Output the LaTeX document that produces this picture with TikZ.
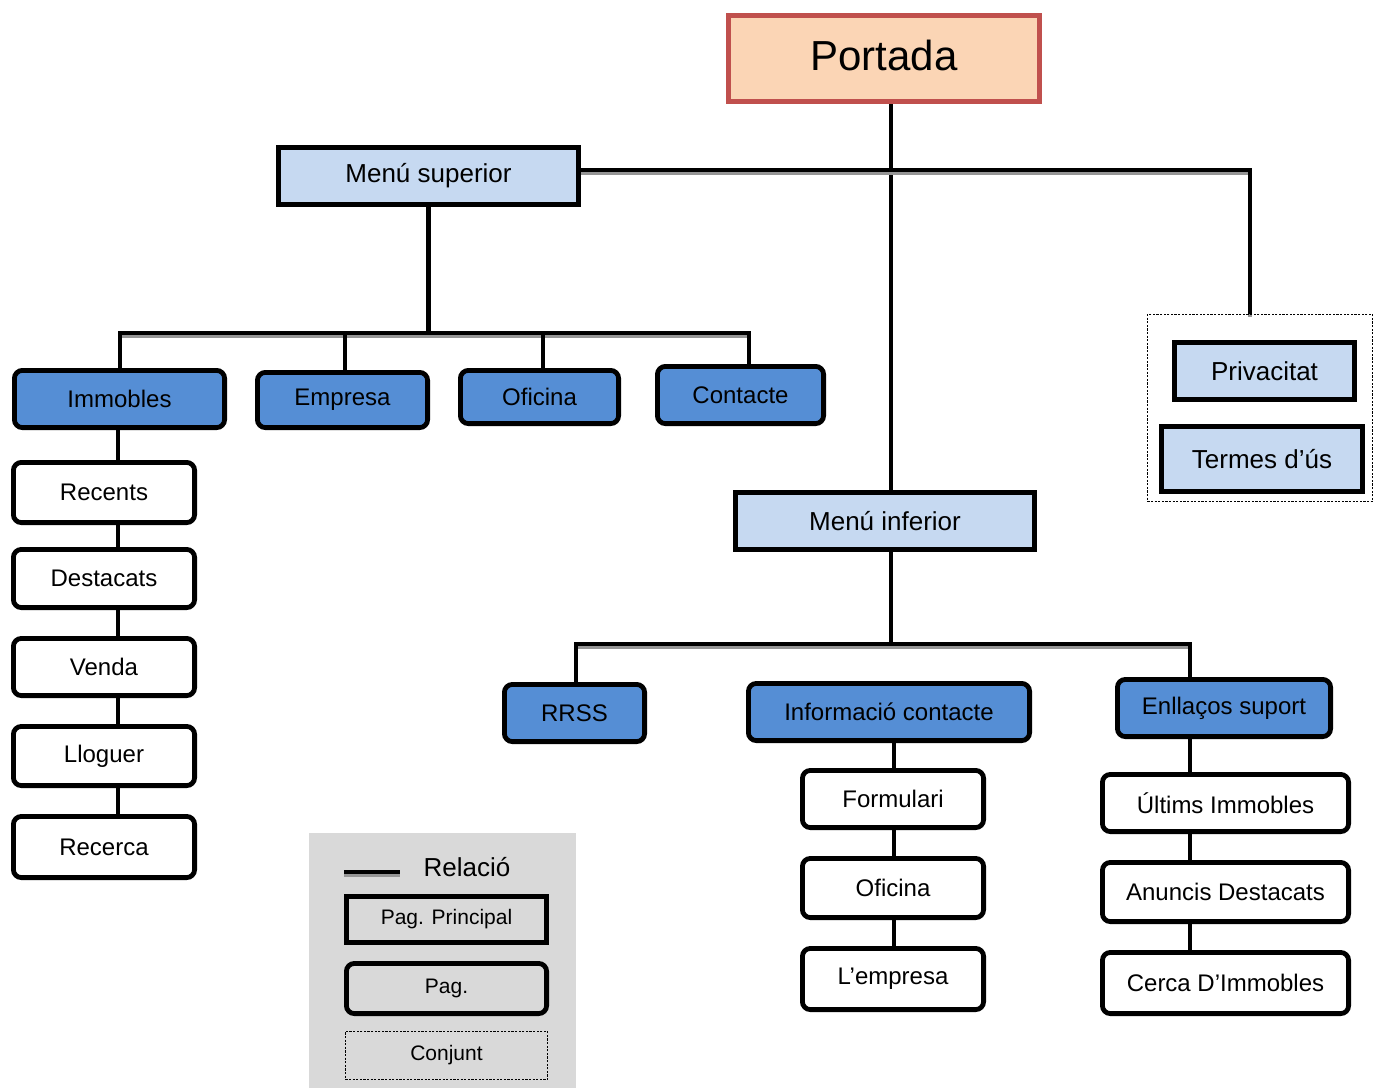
\documentclass[tikz,border=0pt]{standalone}
\usepackage{fontspec}
\setmainfont{Liberation Sans}
\usetikzlibrary{calc}
\pgfdeclarelayer{bg}
\pgfsetlayers{bg,main}
\definecolor{peach}{HTML}{FBD5B5}
\definecolor{peachborder}{HTML}{C0504D}
\definecolor{lightblue}{HTML}{C6D9F1}
\definecolor{midblue}{HTML}{558ED5}
\definecolor{legendgray}{HTML}{D9D9D9}
\definecolor{shadowgray}{HTML}{959595}
\begin{document}
\begin{tikzpicture}[x=0.5pt,y=-0.5pt,
  sz/.style 2 args={minimum width=#1*0.5pt-0.4pt, minimum height=#2*0.5pt-0.4pt},
  base/.style={draw=black, line width=2.4pt, inner sep=0pt, align=center, text=black},
  titlebox/.style={base, fill=peach, draw=peachborder, font=\fontsize{21}{25}\selectfont},
  menubox/.style={base, fill=lightblue, font=\fontsize{13}{16}\selectfont},
  secbox/.style={base, fill=midblue, rounded corners=4pt, font=\fontsize{12}{14}\selectfont},
  pagebox/.style={base, fill=white, rounded corners=4pt, font=\fontsize{12}{14}\selectfont},
  groupbox/.style={draw=black, line width=0.45pt, dash pattern=on 1.1pt off 0.7pt, inner sep=0pt},
  legbox/.style={base, fill=legendgray, font=\fontsize{10.5}{13}\selectfont},
  conn/.style={draw=black, line width=2.2pt,
    preaction={draw=shadowgray, line width=1.8pt, transform canvas={yshift=-1.7pt}}}
]
\useasboundingbox (0,0) rectangle (1379,1088);

\begin{pgfonlayer}{bg}
  \fill[legendgray] (309,833) rectangle (576,1088);
\end{pgfonlayer}

% main title
\node[titlebox, sz={312}{87}] (portada) at (884,58.5) {\raisebox{3pt}{Portada}};

% menus
\node[menubox, sz={301}{58}] (menusup) at (428.5,176) {Menú superior};
\node[menubox, sz={300}{58}] (menuinf) at (885,521) {Menú inferior};

% dotted group
\node[groupbox, sz={226}{188}] (grup) at (1260,408) {};
\node[menubox, sz={181}{58}] (privacitat) at (1264.5,371) {Privacitat};
\node[menubox, sz={202}{66}, line width=2.8pt] (termes) at (1262,459) {Termes d’ús};

% upper sections
\node[secbox, sz={211}{58}] (immobles) at (119.5,399) {Immobles};
\node[secbox, sz={171}{56}] (empresa) at (342.5,400) {Empresa};
\node[secbox, sz={159}{54}] (oficina) at (539.5,397) {Oficina};
\node[secbox, sz={167}{58}] (contacte) at (740.5,395) {Contacte};

% immobles pages
\node[pagebox, sz={182}{61}] (recents) at (104,492.5) {Recents};
\node[pagebox, sz={182}{59}] (destacats) at (104,578.5) {Destacats};
\node[pagebox, sz={182}{58}] (venda) at (104,667) {Venda};
\node[pagebox, sz={182}{60}] (lloguer) at (104,756) {Lloguer};
\node[pagebox, sz={182}{62}] (recerca) at (104,847) {Recerca};

% lower sections
\node[secbox, sz={141}{58}] (rrss) at (574.5,713) {RRSS};
\node[secbox, sz={282}{58}] (info) at (889,712) {Informació contacte};
\node[secbox, sz={214}{58}] (enllacos) at (1224,708) {Enllaços suport};

\node[pagebox, sz={182}{58}] (formulari) at (893,799) {Formulari};
\node[pagebox, sz={182}{60}] (oficina2) at (893,888) {Oficina};
\node[pagebox, sz={182}{62}] (lempresa) at (893,979) {L’empresa};

\node[pagebox, sz={247}{58}] (ultims) at (1225.5,803) {Últims Immobles};
\node[pagebox, sz={247}{60}] (anuncis) at (1225.5,892) {Anuncis Destacats};
\node[pagebox, sz={247}{62}] (cerca) at (1225.5,983) {Cerca D’Immobles};

% legend
\coordinate (relA) at (344,872);
\coordinate (relB) at (400,872);
\node[font=\fontsize{13}{16}\selectfont, anchor=center] (relacio) at (467,867) {Relació};
\node[legbox, sz={201}{47}] (legprin) at (446.5,919.5) {Pag. Principal};
\node[legbox, sz={201}{51}, rounded corners=4pt] (legpag) at (446.5,988.5) {Pag.};
\node[groupbox, sz={203}{49}, font=\fontsize{10.5}{13}\selectfont] (legconj) at (446.5,1055.5) {Conjunt};

% connectors
\coordinate (supR) at (1250,170);
\coordinate (bL) at (120,333);
\coordinate (bR) at (749,333);
\coordinate (iL) at (576,644);
\coordinate (iR) at (1190,644);
\begin{pgfonlayer}{bg}
  \draw[conn] (portada.south -| 891,0) -- (menuinf.north -| 891,0);
  \draw[conn] (menusup.east |- supR) -- (supR) -- (grup.north -| supR);
  \draw[conn] (menusup.south) -- (menusup.south |- bL);
  \draw[conn] (immobles.north -| bL) -- (bL) -- (bR) -- (contacte.north -| bR);
  \draw[conn] (empresa.north -| 345,0) -- (345,333);
  \draw[conn] (oficina.north -| 543,0) -- (543,333);
  \draw[conn] (immobles.south -| 118,0) -- (recerca.north -| 118,0);
  \draw[conn] (menuinf.south -| 891,0) -- (891,644);
  \draw[conn] (rrss.north -| iL) -- (iL) -- (iR) -- (enllacos.north -| iR);
  \draw[conn] (info.south -| 894,0) -- (lempresa.north -| 894,0);
  \draw[conn] (enllacos.south -| iR) -- (cerca.north -| iR);
  \draw[conn] (relA) -- (relB);
\end{pgfonlayer}
\end{tikzpicture}
\end{document}
